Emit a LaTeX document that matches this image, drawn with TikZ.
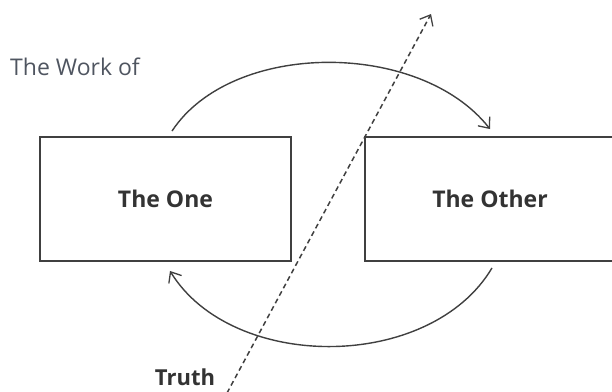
\documentclass[tikz,border=0pt]{standalone}
\usepackage{fontspec}
\setmainfont{Open Sans}
\usetikzlibrary{positioning,arrows.meta}
\definecolor{inkgray}{HTML}{333333}
\definecolor{linegray}{HTML}{404040}
\definecolor{softgray}{HTML}{4F5560}
\begin{document}
\begin{tikzpicture}[x=1pt,y=-1pt,
    box/.style={draw=linegray,line width=1.9pt,minimum width=251pt,minimum height=124pt,inner sep=0pt,font=\fontsize{23}{26}\selectfont\bfseries,text=inkgray},
    flow/.style={draw=linegray,line width=1.4pt,-{Straight Barb[length=9pt,width=15pt,line width=1.3pt]}},
    truthline/.style={draw=linegray,line width=1.5pt,dash pattern=on 5pt off 3.5pt,-{Straight Barb[length=9pt,width=15pt,line width=1.3pt]}}]
  \useasboundingbox (0,0) rectangle (612,391);
  \node[box](one) at (165.5,199){The One};
  \node[box,minimum width=250pt](other) at (490,199){The Other};
  \node[anchor=base west,inner sep=0pt,text=softgray,font=\fontsize{23}{26}\selectfont](work) at (10,75){The Work of};
  \node[anchor=base,inner sep=0pt,text=inkgray,font=\fontsize{22}{26}\selectfont\bfseries](truth) at (185,385){Truth};
  \coordinate (root) at (227,393);
  \coordinate (tip) at (431,14);
  % the two arcs between the boxes
  \draw[flow] ([xshift=6.5pt,yshift=5pt]one.north) .. controls (232,40) and (420,40) .. ([yshift=7pt]other.north);
  \draw[flow] ([xshift=2pt,yshift=-6pt]other.south) .. controls (430,372) and (232,372) .. ([xshift=4.5pt,yshift=-9pt]one.south);
  % truth crossing
  \draw[truthline] (root) -- (tip);
\end{tikzpicture}
\end{document}
